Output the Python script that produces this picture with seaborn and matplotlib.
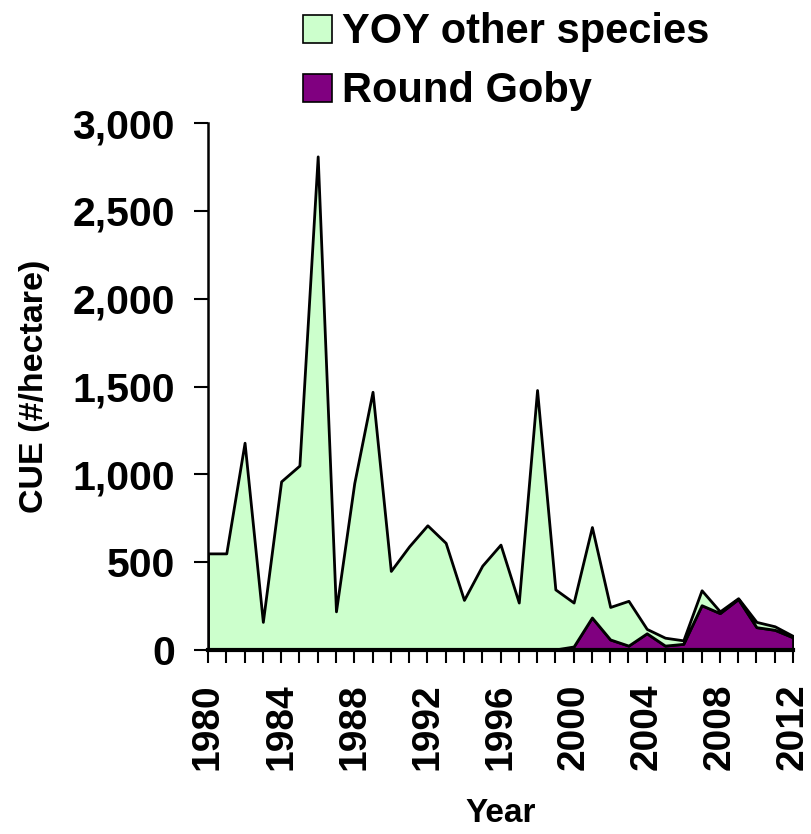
import numpy as np
import pandas as pd
import matplotlib
matplotlib.use('Agg')
import matplotlib.pyplot as plt
import seaborn as sns
from matplotlib.patches import Patch
from matplotlib.ticker import FuncFormatter, MultipleLocator

# data
years = list(range(1980, 2013))
round_goby = [0, 0, 0, 0, 0, 0, 0, 0, 0, 0,
              0, 0, 0, 0, 0, 0, 0, 0, 0, 3,
              20, 185, 60, 25, 95, 25, 35, 255, 210, 290,
              130, 115, 72]
other_species = [550, 550, 1180, 160, 960, 1050, 2810, 220, 950, 1470,
                 450, 590, 710, 610, 285, 480, 600, 270, 1480, 342,
                 250, 515, 185, 255, 25, 45, 20, 85, 10, 5,
                 30, 20, 8]
labels = ['YOY other species', 'Round Goby']
colors = {'YOY other species': '#CCFFCC', 'Round Goby': '#800080'}

df = pd.DataFrame({'Year': years, 'Round Goby': round_goby,
                   'YOY other species': other_species})

sns.set_theme(style='white')
plt.rcParams['font.family'] = ['Liberation Sans', 'DejaVu Sans']
plt.rcParams['font.weight'] = 'bold'
plt.rcParams['text.color'] = 'black'
plt.rcParams['axes.labelcolor'] = 'black'

fig = plt.figure(figsize=(8.11, 8.34), dpi=100)
ax = fig.add_axes([208 / 811, 1 - 650 / 834, (793 - 208) / 811, (650 - 123) / 834])

# stacked area, goby on the bottom
ax.stackplot(df['Year'], df['Round Goby'], df['YOY other species'],
             colors=[colors['Round Goby'], colors['YOY other species']],
             edgecolor='black', linewidth=2)

ax.set_xlim(1980, 2012)
ax.set_ylim(0, 3000)
ax.yaxis.set_major_locator(MultipleLocator(500))
ax.yaxis.set_major_formatter(FuncFormatter(lambda v, p: f'{int(v):,}'))
ax.xaxis.set_major_locator(MultipleLocator(4))
ax.xaxis.set_minor_locator(MultipleLocator(1))

sns.despine(ax=ax)
ax.spines['left'].set_linewidth(1.8)
ax.spines['bottom'].set_linewidth(3)
ax.spines['left'].set_color('black')
ax.spines['bottom'].set_color('black')

ax.tick_params(axis='y', which='major', direction='out', length=10, width=1.5,
               color='black', left=True, pad=14, labelsize=29.5, labelcolor='black')
ax.tick_params(axis='x', which='both', direction='out', length=9, width=1.5,
               color='black', bottom=True, pad=15)
ax.tick_params(axis='x', which='major', labelsize=28, labelrotation=90, labelcolor='black')
for t in ax.get_xticklabels() + ax.get_yticklabels():
    t.set_fontweight('bold')

ax.set_xlabel('Year', fontsize=24, fontweight='bold', color='black', labelpad=20)
ax.set_ylabel('CUE (#/hectare)', fontsize=24.5, fontweight='bold', color='black', labelpad=16)

handles = [Patch(facecolor=colors[l], edgecolor='black', linewidth=1.2) for l in labels]
fig.legend(handles, labels, loc='upper left', bbox_to_anchor=(282 / 811, 1.01),
           frameon=False, prop={'size': 30, 'weight': 'bold'},
           handlelength=0.7, handleheight=0.65, handletextpad=0.25,
           labelspacing=0.45, borderaxespad=0.1)

fig.savefig('out.png', dpi=100)
